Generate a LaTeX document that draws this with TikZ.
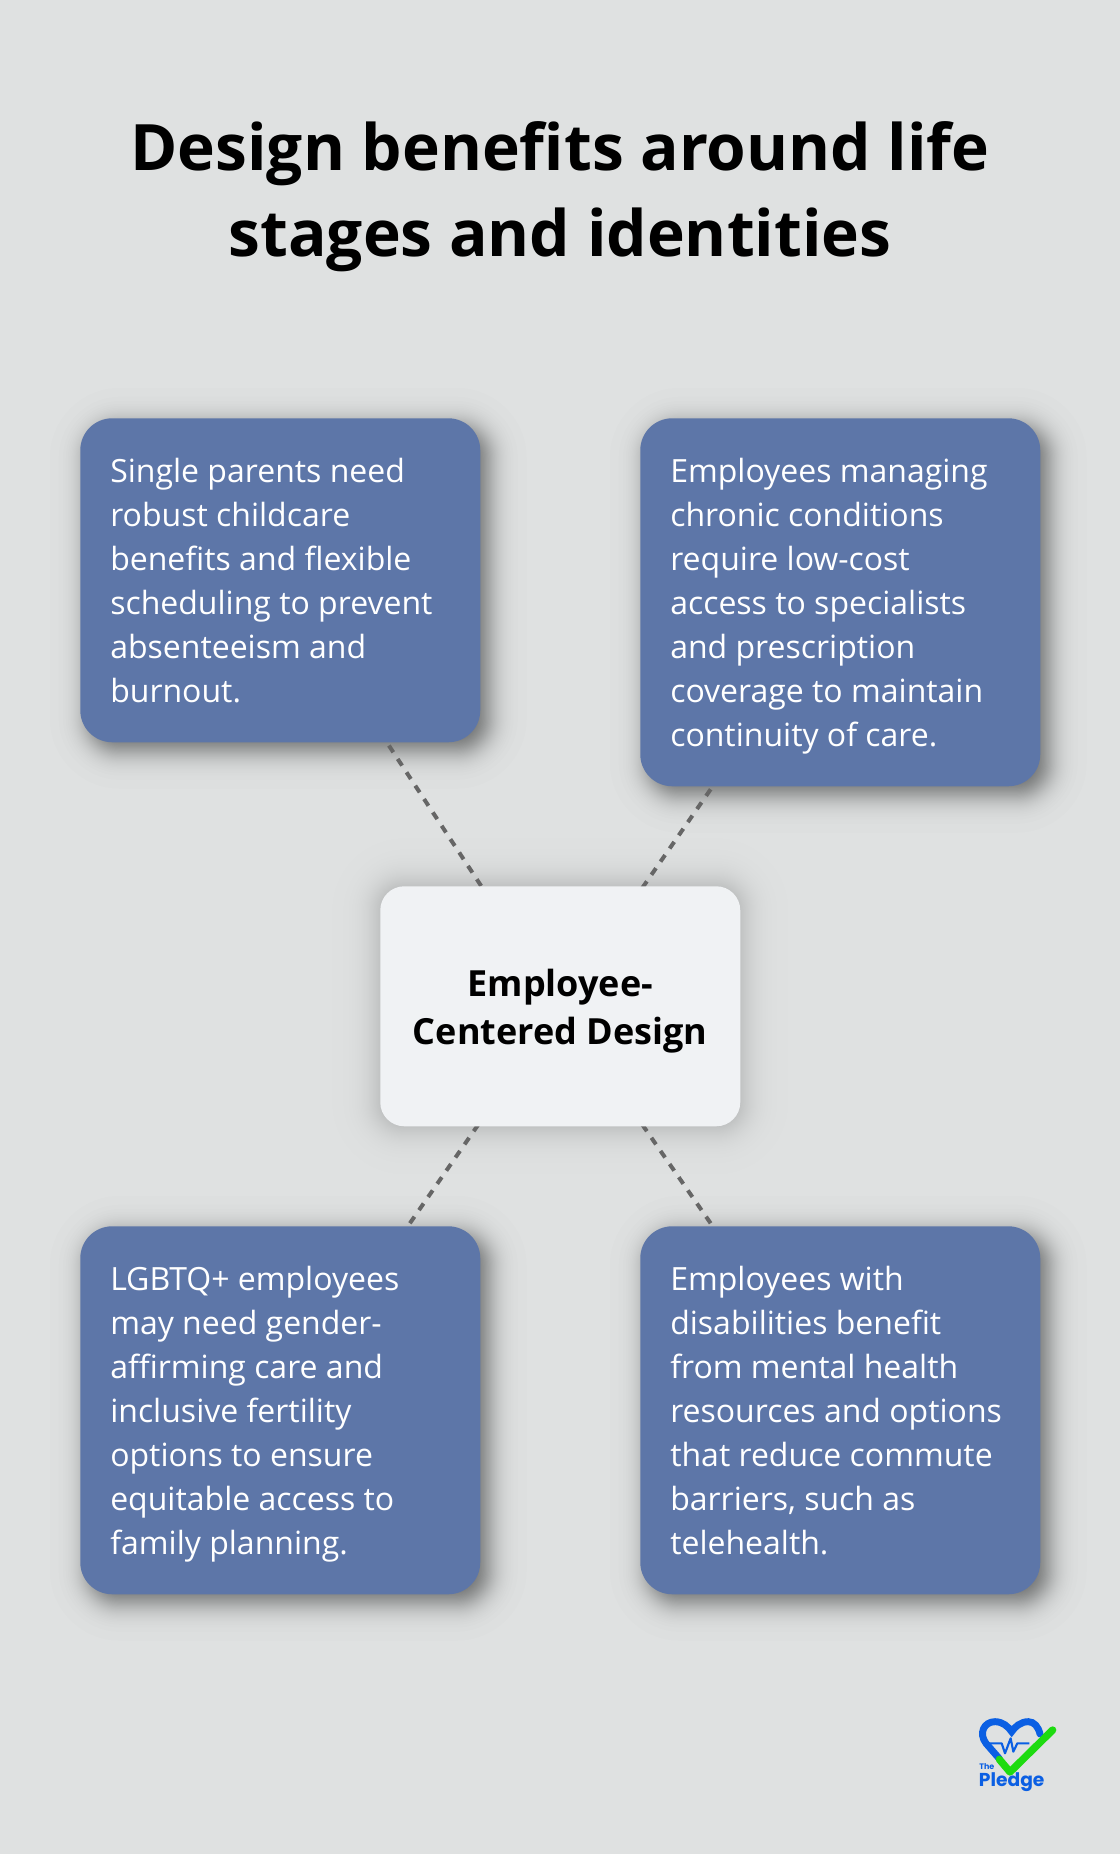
\documentclass[tikz,border=0pt]{standalone}
\usepackage{fontspec}
\setmainfont{Open Sans}
\newfontfamily\logofont{Poppins}
\usetikzlibrary{calc,backgrounds}
\definecolor{pagegray}{HTML}{DFE1E1}
\definecolor{cardblue}{HTML}{5D76A8}
\definecolor{hubwhite}{HTML}{F0F2F4}
\definecolor{linkgray}{HTML}{666666}
\definecolor{logoblue}{HTML}{0B5FE3}
\definecolor{logogreen}{HTML}{1EDB10}
\tikzset{
  cardbox/.style={anchor=north west,fill=cardblue,text=white,rounded corners=24pt,inner sep=22.5pt,
    text width=255pt,align=flush left,font=\fontsize{24}{33}\selectfont,
    execute at begin node={\rule{0pt}{25.5pt}},execute at end node={\rule[-7.5pt]{0pt}{7.5pt}}},
  hubbox/.style={anchor=north west,fill=hubwhite,text=black,rounded corners=18pt,inner sep=0pt,
    text width=270pt,minimum height=180pt,align=flush center,font=\fontsize{27}{36}\selectfont\bfseries,
    execute at begin node={\rule{0pt}{29.5pt}},execute at end node={\rule[-8pt]{0pt}{8pt}}},
  titletext/.style={align=center,inner sep=0pt,text=black,font=\fontsize{48}{64.5}\selectfont\bfseries},
  linkline/.style={draw=linkgray,line width=3pt,dash pattern=on 6pt off 6pt},
  logotext/.style={anchor=base west,inner sep=0pt,text=logoblue,font=\logofont\bfseries}
}
% node, dx, dy, spread, radius in pt, opacity
\newcommand{\softshadow}[6]{
  \foreach \i in {1,...,60} {
    \pgfmathsetmacro{\g}{ln((\i-0.5)/(60.5-\i))*0.5}
    \pgfmathsetmacro{\rad}{max(#5+\g*#4*0.75,2)}
    \fill[black,opacity=#6,rounded corners=\rad pt]
      ($(#1.north west)+(#2,#3)+(-\g*#4,-\g*#4)$) rectangle ($(#1.south east)+(#2,#3)+(\g*#4,\g*#4)$);
  }
}
\begin{document}
\begin{tikzpicture}[x=0.75pt,y=0.75pt,yscale=-1]

\useasboundingbox (0,0) rectangle (1120,1854);

% Title
\node[titletext] (title) at (560,197) {Design benefits around life\\stages and identities};

% Cards
\node[cardbox] (parents) at (80,418) {Single parents need\\robust childcare\\benefits and flexible\\scheduling to prevent\\absenteeism and\\burnout.};
\node[cardbox] (chronic) at (640,418) {Employees managing\\chronic conditions\\require low-cost\\access to specialists\\and prescription\\coverage to maintain\\continuity of care.};
\node[cardbox] (lgbtq) at (80,1226) {LGBTQ+ employees\\may need gender-\\affirming care and\\inclusive fertility\\options to ensure\\equitable access to\\family planning.};
\node[cardbox] (disability) at (640,1226) {Employees with\\disabilities benefit\\from mental health\\resources and options\\that reduce commute\\barriers, such as\\telehealth.};

% Centre
\node[hubbox] (hub) at (380,886) {Employee-\\Centered Design};

\begin{scope}[on background layer]
%Page
\fill[pagegray] (0,0) rectangle (1120,1854);
% Shadows
\softshadow{parents}{8}{8}{16}{24}{0.0075}
\softshadow{chronic}{8}{8}{16}{24}{0.0075}
\softshadow{lgbtq}{8}{8}{16}{24}{0.0075}
\softshadow{disability}{8}{8}{16}{24}{0.0075}
\softshadow{hub}{0}{0}{20}{18}{0.005}
% Connectors
\draw[linkline] (hub.center) -- (parents.center);
\draw[linkline] (hub.center) -- (chronic.center);
\draw[linkline] (hub.center) -- (lgbtq.center);
\draw[linkline] (hub.center) -- (disability.center);
\end{scope}

% Logo
\begin{scope}[shift={(960,1700)},scale=0.3333]
\draw[logoblue,line width=5.2pt,line cap=round] (118,176) -- (78,130) .. controls (55,100) and (72,65) .. (105,65) .. controls (128,65) and (145,80) .. (155,95) .. controls (165,80) and (182,65) .. (205,65) .. controls (222,65) and (235,80) .. (240,102);
\draw[logoblue,line width=1.6pt,line join=round] (85,130) -- (125,130) -- (135,160) -- (152,115) -- (160,155) -- (172,130) -- (208,130);
\draw[logogreen,line width=5.5pt,line cap=round,line join=round] (118,178) -- (150,216) -- (278,90);
\node[logotext,font=\logofont\bfseries\fontsize{6}{6}\selectfont] (the) at (57,209) {The};
\node[logotext,font=\logofont\bfseries\fontsize{14}{14}\selectfont] (pledge) at (56,258) {Pledge};
\end{scope}

\end{tikzpicture}
\end{document}
